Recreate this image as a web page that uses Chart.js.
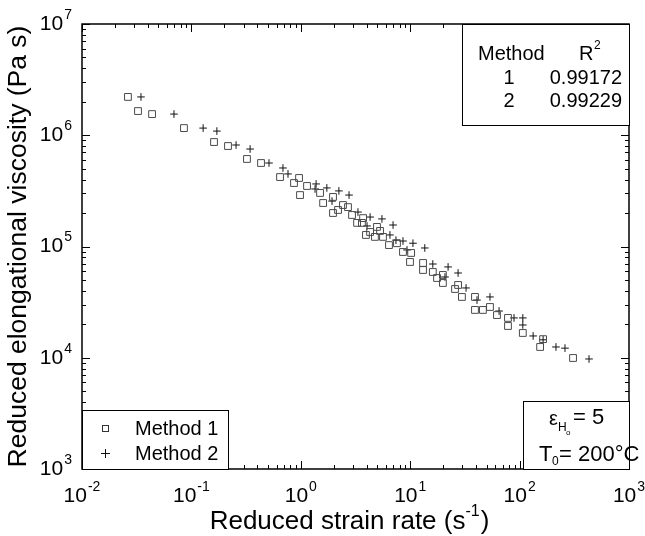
<!DOCTYPE html>
<html><head><meta charset="utf-8">
<script src="https://cdn.jsdelivr.net/npm/chart.js@4.4.0/dist/chart.umd.min.js"></script>
<style>html,body{margin:0;padding:0;background:#fff}#wrap{width:645px;height:536px}</style>
</head><body><div id="wrap"><canvas id="c" width="645" height="536"></canvas></div>
<script>
// ---- data ----
const m1Rate = [0.0263,0.0325,0.0437,0.0855,0.161,0.216,0.322,0.433,0.646,0.867,0.964,1.14,0.984,1.50,1.97,1.60,2.43,2.70,2.19,1.97,2.94,3.71,3.62,3.27,4.97,4.30,5.30,3.94,4.76,5.64,6.40,7.57,8.59,10.2,9.96,13.1,13.1,16.1,19.9,17.6,19.9,27.4,25.7,29.7,39.1,39.1,46.2,53.6,62.1,78.3,78.3,107,164,154,308];
const m1Visc = [2.21e6,1.65e6,1.55e6,1.16e6,8.69e5,8.00e5,6.12e5,5.63e5,4.21e5,3.72e5,4.13e5,3.50e5,2.90e5,3.03e5,2.79e5,2.46e5,2.36e5,2.26e5,2.13e5,2.00e5,1.92e5,1.80e5,1.63e5,1.63e5,1.50e5,1.35e5,1.38e5,1.27e5,1.22e5,1.22e5,1.03e5,1.07e5,8.93e4,8.75e4,7.26e4,7.11e4,6.15e4,5.90e4,5.55e4,5.21e4,4.70e4,4.51e4,4.15e4,3.52e4,3.52e4,2.69e4,2.69e4,2.86e4,2.42e4,2.28e4,1.93e4,1.67e4,1.47e4,1.25e4,9.95e3];
const m2Rate = [0.0346,0.0693,0.128,0.171,0.256,0.344,0.512,0.687,0.764,1.38,1.35,1.73,2.23,1.93,2.76,3.33,4.30,5.52,4.03,6.97,6.53,7.41,8.59,9.35,10.6,13.6,16.1,22.2,27.4,20.8,32.4,40.8,53.6,64.9,88.9,107,107,133,164,215,260,431];
const m2Visc = [2.21e6,1.55e6,1.16e6,1.09e6,8.17e5,7.52e5,5.63e5,5.08e5,4.49e5,3.65e5,3.29e5,3.36e5,3.16e5,2.56e5,2.90e5,2.04e5,1.84e5,1.77e5,1.53e5,1.56e5,1.27e5,1.14e5,1.12e5,9.31e4,1.07e5,9.70e4,6.96e4,6.55e4,5.78e4,5.32e4,4.24e4,3.30e4,3.52e4,2.63e4,2.28e4,2.28e4,1.97e4,1.57e4,1.45e4,1.25e4,1.22e4,9.75e3];
const xDecades = [-2,-1,0,1,2,3];
const yDecades = [3,4,5,6,7];
const seriesNames = ['Method 1','Method 2'];
const r2Methods = ['1','2'];
const r2Values = ['0.99172','0.99229'];

const FF = '"Liberation Sans", Arial, Helvetica, sans-serif';
const F = (s) => `${s}px ${FF}`;

function pts(xs, ys){ return xs.map((x,i)=>({x:x, y:ys[i]})); }

const decor = {
  id:'decor',
  beforeDraw(chart){
    const c = chart.ctx; c.save(); c.fillStyle='#fff'; c.fillRect(0,0,chart.width,chart.height); c.restore();
  },
  afterDatasetsDraw(chart){
    const c = chart.ctx, a = chart.chartArea, xs = chart.scales.x, ys = chart.scales.y;
    c.save();
    c.strokeStyle = '#000'; c.fillStyle = '#000';
    // ticks (inward, all four sides)
    c.lineWidth = 1;
    c.beginPath();
    for (let d = xDecades[0]; d <= xDecades[xDecades.length-1]; d++) {
      for (let k = 1; k <= 9; k++) {
        const v = k*Math.pow(10,d);
        if (v > Math.pow(10, xDecades[xDecades.length-1])) break;
        const p = Math.round(xs.getPixelForValue(v)) + 0.5, L = k===1 ? 8 : 4;
        c.moveTo(p, a.bottom); c.lineTo(p, a.bottom - L);
        c.moveTo(p, a.top); c.lineTo(p, a.top + L);
      }
    }
    for (let d = yDecades[0]; d <= yDecades[yDecades.length-1]; d++) {
      for (let k = 1; k <= 9; k++) {
        const v = k*Math.pow(10,d);
        if (v > Math.pow(10, yDecades[yDecades.length-1])) break;
        const p = Math.round(ys.getPixelForValue(v)) + 0.5, L = k===1 ? 8 : 4;
        c.moveTo(a.left, p); c.lineTo(a.left + L, p);
        c.moveTo(a.right, p); c.lineTo(a.right - L, p);
      }
    }
    c.stroke();
    // frame
    c.lineWidth = 1.5;
    c.strokeRect(a.left, a.top, a.right - a.left, a.bottom - a.top);

    // power labels
    function pow(x, y, exp, align){
      c.font = F(21); const w1 = c.measureText('10').width;
      c.font = F(14); const w2 = c.measureText(exp).width;
      const tot = w1 + w2 + 1;
      const s = align === 'center' ? x - tot/2 : x - tot;
      c.textAlign = 'left'; c.textBaseline = 'middle';
      c.font = F(21); c.fillText('10', s, y);
      c.font = F(14); c.fillText(exp, s + w1 + 1, y - 9);
    }
    xDecades.forEach(d => pow(xs.getPixelForValue(Math.pow(10,d)), a.bottom + 27, String(d), 'center'));
    yDecades.forEach(d => pow(a.left - 10, ys.getPixelForValue(Math.pow(10,d)), String(d), 'right'));

    // x title
    {
      const t1 = 'Reduced strain rate (s', t2 = '-1', t3 = ')';
      c.font = F(26); const w1 = c.measureText(t1).width, w3 = c.measureText(t3).width;
      c.font = F(16); const w2 = c.measureText(t2).width;
      const cx = (a.left + a.right)/2 - 6, tot = w1 + w2 + w3 + 1;
      let s = cx - tot/2, y = 522;
      c.textAlign='left'; c.textBaseline='middle';
      c.font = F(26); c.fillText(t1, s, y);
      c.font = F(16); c.fillText(t2, s + w1, y - 10);
      c.font = F(26); c.fillText(t3, s + w1 + w2 + 1, y);
    }
    // y title
    {
      c.save();
      c.translate(19, (a.top + a.bottom)/2);
      c.rotate(-Math.PI/2);
      c.font = F(26.5); c.textAlign='center'; c.textBaseline='middle';
      c.fillText('Reduced elongational viscosity (Pa s)', 0, 0);
      c.restore();
    }

    // legend box (bottom-left)
    {
      const bx = a.left, by = 410, bw = 146, bh = a.bottom - 410;
      c.fillStyle='#fff'; c.fillRect(bx, by, bw, bh);
      c.lineWidth = 1; c.strokeStyle='#000'; c.strokeRect(bx + 0.5, by + 0.5, bw, bh);
      c.fillStyle='#000';
      c.strokeStyle='#333'; c.lineWidth=1;
      c.strokeRect(102.5, 425.5, 6, 6);
      c.strokeStyle='#111';
      c.beginPath(); c.moveTo(101, 453.5); c.lineTo(110, 453.5); c.moveTo(105.5, 449); c.lineTo(105.5, 458); c.stroke();
      c.font = F(20); c.textAlign='left'; c.textBaseline='middle';
      c.fillText(seriesNames[0], 135, 429);
      c.fillText(seriesNames[1], 135, 454);
    }
    // R^2 box (top-right)
    {
      const bx = 462, by = a.top, bw = a.right - 462, bh = 125 - a.top;
      c.fillStyle='#fff'; c.fillRect(bx, by, bw, bh);
      c.lineWidth = 1; c.strokeStyle='#000'; c.strokeRect(bx + 0.5, by + 0.5, bw, bh);
      c.fillStyle='#000'; c.font = F(20); c.textBaseline='middle';
      c.textAlign='left'; c.fillText('Method', 478, 54);
      c.fillText('R', 579, 54);
      c.font = F(12); c.fillText('2', 594, 46);
      c.font = F(20);
      const rows = [78, 101];
      r2Methods.forEach((m,i) => { c.textAlign='center'; c.fillText(m, 509, rows[i]); });
      r2Values.forEach((v,i) => { c.textAlign='right'; c.fillText(v, 622, rows[i]); });
    }
    // condition box (bottom-right)
    {
      const bx = 523, by = 401, bw = a.right - 523, bh = a.bottom - 401;
      c.fillStyle='#fff'; c.fillRect(bx, by, bw, bh);
      c.lineWidth = 1; c.strokeStyle='#000'; c.strokeRect(bx + 0.5, by + 0.5, bw, bh);
      c.fillStyle='#000'; c.textAlign='left'; c.textBaseline='middle';
      c.font = F(20); c.fillText('\u03B5', 549, 419);
      c.font = F(12); c.fillText('H', 558, 428);
      c.font = F(8); c.fillText('o', 566, 433);
      c.font = F(22); c.fillText('= 5', 573, 418);
      c.font = F(22); c.fillText('T', 539, 455);
      c.font = F(12); c.fillText('0', 552, 462);
      c.font = F(22); c.fillText('= 200\u00B0C', 559, 455);
    }
    c.restore();
  }
};

new Chart(document.getElementById('c'), {
  type: 'scatter',
  data: {
    datasets: [
      { label: seriesNames[0], data: pts(m1Rate, m1Visc), pointStyle: 'rect', radius: 4.8,
        borderColor: '#4a4a4a', backgroundColor: 'rgba(0,0,0,0)', borderWidth: 1 },
      { label: seriesNames[1], data: pts(m2Rate, m2Visc), pointStyle: 'cross', radius: 3.8,
        borderColor: '#111', backgroundColor: 'rgba(0,0,0,0)', borderWidth: 1 }
    ]
  },
  options: {
    responsive: false, animation: false, devicePixelRatio: 1,
    layout: { padding: { left: 82, top: 24, right: 16, bottom: 67 } },
    scales: {
      x: { type: 'logarithmic', min: 0.01, max: 1000, display: false },
      y: { type: 'logarithmic', min: 1000, max: 1e7, display: false }
    },
    plugins: { legend: { display: false }, tooltip: { enabled: false } }
  },
  plugins: [decor]
});
</script>
</body></html>
